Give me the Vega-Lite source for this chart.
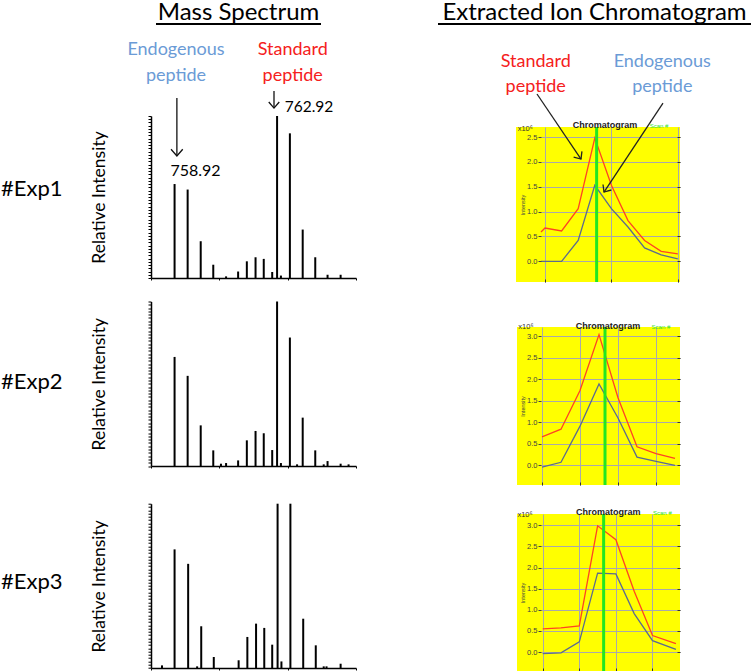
{
  "$schema": "https://vega.github.io/schema/vega-lite/v6.json",
  "background": "white",
  "padding": 0,
  "autosize": {"type": "pad"},
  "config": {"view": {"stroke": null}, "axis": {"labelFont": "Liberation Sans"}},
  "datasets": {
    "anno": [{}],
    "spec1": [{"mz":758.92,"rel":58},{"mz":759.43,"rel":54.6},{"mz":759.94,"rel":22.7},{"mz":760.43,"rel":8.2},{"mz":760.93,"rel":1},{"mz":761.4,"rel":4},{"mz":761.74,"rel":10.3},{"mz":762.08,"rel":12.8},{"mz":762.4,"rel":11.8},{"mz":762.73,"rel":3.7},{"mz":762.92,"rel":100},{"mz":763.07,"rel":1.5},{"mz":763.42,"rel":89.3},{"mz":763.92,"rel":29.9},{"mz":764.41,"rel":12.8},{"mz":764.89,"rel":2},{"mz":765.4,"rel":2}],
    "spec2": [{"mz":758.92,"rel":66.3},{"mz":759.43,"rel":54.8},{"mz":759.94,"rel":24.7},{"mz":760.43,"rel":9.5},{"mz":760.73,"rel":1.4},{"mz":760.93,"rel":1.8},{"mz":761.4,"rel":3.4},{"mz":761.74,"rel":15.6},{"mz":762.08,"rel":21.3},{"mz":762.4,"rel":19.9},{"mz":762.73,"rel":9.7},{"mz":762.92,"rel":100},{"mz":763.07,"rel":1.8},{"mz":763.42,"rel":78.1},{"mz":763.7,"rel":1},{"mz":763.92,"rel":29.4},{"mz":764.41,"rel":9.5},{"mz":764.74,"rel":1},{"mz":764.89,"rel":3},{"mz":765.4,"rel":1.4},{"mz":765.71,"rel":1}],
    "spec3": [{"mz":758.43,"rel":1.6},{"mz":758.92,"rel":72.2},{"mz":759.45,"rel":63.4},{"mz":759.8,"rel":1},{"mz":759.96,"rel":25.4},{"mz":760.45,"rel":6.7},{"mz":761.42,"rel":4.7},{"mz":761.76,"rel":18.9},{"mz":762.1,"rel":27},{"mz":762.42,"rel":24.4},{"mz":762.73,"rel":14.2},{"mz":762.94,"rel":100},{"mz":763.09,"rel":4},{"mz":763.44,"rel":100},{"mz":763.94,"rel":30},{"mz":764.43,"rel":13.8},{"mz":764.74,"rel":1},{"mz":764.85,"rel":1},{"mz":765.4,"rel":2.6}],
    "chrom1": [{"scan":-0.24,"pep":"Standard","int":0.59},{"scan":0,"pep":"Standard","int":0.67},{"scan":1,"pep":"Standard","int":0.61},{"scan":2,"pep":"Standard","int":1.06},{"scan":3,"pep":"Standard","int":2.48},{"scan":4,"pep":"Standard","int":1.53},{"scan":5,"pep":"Standard","int":0.82},{"scan":6,"pep":"Standard","int":0.42},{"scan":7,"pep":"Standard","int":0.2},{"scan":8,"pep":"Standard","int":0.15},
      {"scan":-0.24,"pep":"Endogenous","int":0},{"scan":0,"pep":"Endogenous","int":0},{"scan":1,"pep":"Endogenous","int":0},{"scan":2,"pep":"Endogenous","int":0.42},{"scan":3,"pep":"Endogenous","int":1.53},{"scan":4,"pep":"Endogenous","int":1.06},{"scan":5,"pep":"Endogenous","int":0.69},{"scan":6,"pep":"Endogenous","int":0.27},{"scan":7,"pep":"Endogenous","int":0.13},{"scan":8,"pep":"Endogenous","int":0.05}],
    "chrom2": [{"scan":0,"pep":"Standard","int":0.66},{"scan":1,"pep":"Standard","int":0.84},{"scan":2,"pep":"Standard","int":1.74},{"scan":3,"pep":"Standard","int":3.04},{"scan":4,"pep":"Standard","int":1.57},{"scan":5,"pep":"Standard","int":0.43},{"scan":6,"pep":"Standard","int":0.27},{"scan":7,"pep":"Standard","int":0.16},
      {"scan":0,"pep":"Endogenous","int":-0.04},{"scan":1,"pep":"Endogenous","int":0.07},{"scan":2,"pep":"Endogenous","int":0.91},{"scan":3,"pep":"Endogenous","int":1.89},{"scan":4,"pep":"Endogenous","int":1.1},{"scan":5,"pep":"Endogenous","int":0.19},{"scan":6,"pep":"Endogenous","int":0.09},{"scan":7,"pep":"Endogenous","int":0}],
    "chrom3": [{"scan":0,"pep":"Standard","int":0.55},{"scan":1,"pep":"Standard","int":0.57},{"scan":2,"pep":"Standard","int":0.62},{"scan":3,"pep":"Standard","int":2.99},{"scan":4,"pep":"Standard","int":2.66},{"scan":5,"pep":"Standard","int":1.44},{"scan":6,"pep":"Standard","int":0.39},{"scan":7.28,"pep":"Standard","int":0.2},
      {"scan":0,"pep":"Endogenous","int":-0.04},{"scan":1,"pep":"Endogenous","int":-0.02},{"scan":2,"pep":"Endogenous","int":0.24},{"scan":3,"pep":"Endogenous","int":1.87},{"scan":4,"pep":"Endogenous","int":1.85},{"scan":5,"pep":"Endogenous","int":0.91},{"scan":6,"pep":"Endogenous","int":0.27},{"scan":7.28,"pep":"Endogenous","int":0.06}]
  },
  "spacing": 80,
  "hconcat": [
    {
      "spacing": 14,
      "vconcat": [
        {
          "width": 205, "height": 26,
          "layer": [
            {"data": {"name": "anno"}, "mark": {"type": "text", "text": "Mass Spectrum", "font": "Lato", "fontSize": 24, "align": "center", "baseline": "alphabetic", "color": "#000", "clip": false}, "encoding": {"x": {"datum": 761.415, "scale": {"domain": [758, 766], "nice": false, "zero": false}, "axis": null}, "y": {"datum": 7.5, "scale": {"domain": [0, 26], "nice": false, "zero": false}, "axis": null}}},
            {"data": {"name": "anno"}, "mark": {"type": "rule", "color": "#000", "strokeWidth": 2, "clip": false}, "encoding": {"x": {"datum": 758.195, "axis": null}, "x2": {"datum": 764.634}, "y": {"datum": 3, "axis": null}}}
          ]
        },
        {
          "spacing": 19.5,
          "vconcat": [
            {
              "width": 205, "height": 162,
              "layer": [
                {"data": {"name": "spec1"}, "mark": {"type": "rule", "strokeWidth": 2, "color": "#000"},
                 "encoding": {
                   "x": {"field": "mz", "type": "quantitative", "scale": {"domain": [758, 766], "nice": false, "zero": false}, "axis": {"title": null, "labels": false, "values": [758,758.333,758.667,759,759.333,759.667,760,760.333,760.667,761,761.333,761.667,762,762.333,762.667,763,763.333,763.667,764,764.333,764.667,765,765.333,765.667,766], "tickSize": 2, "tickColor": "#000", "domainColor": "#000", "domainWidth": 1.5, "grid": false}},
                   "y": {"field": "rel", "type": "quantitative", "scale": {"domain": [0, 100], "nice": false, "zero": false}, "axis": {"title": "Relative Intensity", "labels": false, "tickCount": 50, "tickSize": 3, "tickColor": "#000", "domainColor": "#000", "domainWidth": 1.5, "grid": false, "titleFont": "Lato", "titleFontSize": 17.5, "titleFontWeight": "normal", "titleColor": "#000", "titlePadding": 39}},
                   "y2": {"datum": 0}
                 }},
                {"data": {"name": "anno"}, "mark": {"type": "text", "text": "Endogenous", "font": "Lato", "fontSize": 18, "align": "center", "baseline": "alphabetic", "color": "#6b9bd6", "clip": false}, "encoding": {"x": {"datum": 758.976}, "y": {"datum": 137.47}}},
                {"data": {"name": "anno"}, "mark": {"type": "text", "text": "peptide", "font": "Lato", "fontSize": 18, "align": "center", "baseline": "alphabetic", "color": "#6b9bd6", "clip": false}, "encoding": {"x": {"datum": 758.976}, "y": {"datum": 121.6}}},
                {"data": {"name": "anno"}, "mark": {"type": "text", "text": "Standard", "font": "Lato", "fontSize": 18, "align": "center", "baseline": "alphabetic", "color": "#f52020", "clip": false}, "encoding": {"x": {"datum": 763.53}, "y": {"datum": 137.47}}},
                {"data": {"name": "anno"}, "mark": {"type": "text", "text": "peptide", "font": "Lato", "fontSize": 18, "align": "center", "baseline": "alphabetic", "color": "#f52020", "clip": false}, "encoding": {"x": {"datum": 763.53}, "y": {"datum": 121.6}}},
                {"data": {"name": "anno"}, "mark": {"type": "rule", "color": "#111", "strokeWidth": 1.3, "clip": false}, "encoding": {"x": {"datum": 759.01}, "y": {"datum": 111.1}, "y2": {"datum": 75.3}}},
                {"data": {"name": "anno"}, "mark": {"type": "point", "shape": "M-1,-1.15L0,0L1,-1.15", "size": 137, "filled": false, "color": "#111", "strokeWidth": 1.3, "opacity": 1, "clip": false}, "encoding": {"x": {"datum": 759.01}, "y": {"datum": 75.3}}},
                {"data": {"name": "anno"}, "mark": {"type": "rule", "color": "#111", "strokeWidth": 1.3, "clip": false}, "encoding": {"x": {"datum": 762.8}, "y": {"datum": 115.4}, "y2": {"datum": 104.9}}},
                {"data": {"name": "anno"}, "mark": {"type": "point", "shape": "M-1,-1.15L0,0L1,-1.15", "size": 110, "filled": false, "color": "#111", "strokeWidth": 1.3, "opacity": 1, "clip": false}, "encoding": {"x": {"datum": 762.8}, "y": {"datum": 104.9}}},
                {"data": {"name": "anno"}, "mark": {"type": "text", "text": "762.92", "font": "Lato", "fontSize": 15.5, "align": "center", "baseline": "alphabetic", "color": "#000", "clip": false}, "encoding": {"x": {"datum": 764.166}, "y": {"datum": 102.65}}},
                {"data": {"name": "anno"}, "mark": {"type": "text", "text": "758.92", "font": "Lato", "fontSize": 16, "align": "center", "baseline": "alphabetic", "color": "#000", "clip": false}, "encoding": {"x": {"datum": 759.737}, "y": {"datum": 62.96}}},
                {"data": {"name": "anno"}, "mark": {"type": "text", "text": "#Exp1", "font": "Lato", "fontSize": 22, "align": "left", "baseline": "alphabetic", "color": "#000", "clip": false}, "encoding": {"x": {"datum": 752.146}, "y": {"datum": 50.6}}}
              ]
            },
            {
              "spacing": 34.2,
              "vconcat": [
                {
                  "width": 205, "height": 164.5,
                  "layer": [
                    {"data": {"name": "spec2"}, "mark": {"type": "rule", "strokeWidth": 2, "color": "#000"},
                     "encoding": {
                       "x": {"field": "mz", "type": "quantitative", "scale": {"domain": [758, 766], "nice": false, "zero": false}, "axis": {"title": null, "labels": false, "values": [758,758.333,758.667,759,759.333,759.667,760,760.333,760.667,761,761.333,761.667,762,762.333,762.667,763,763.333,763.667,764,764.333,764.667,765,765.333,765.667,766], "tickSize": 2, "tickColor": "#000", "domainColor": "#000", "domainWidth": 1.5, "grid": false}},
                       "y": {"field": "rel", "type": "quantitative", "scale": {"domain": [0, 100], "nice": false, "zero": false}, "axis": {"title": "Relative Intensity", "labels": false, "tickCount": 50, "tickSize": 3, "tickColor": "#000", "domainColor": "#000", "domainWidth": 1.5, "grid": false, "titleFont": "Lato", "titleFontSize": 17.5, "titleFontWeight": "normal", "titleColor": "#000", "titlePadding": 39}},
                       "y2": {"datum": 0}
                     }},
                    {"data": {"name": "anno"}, "mark": {"type": "text", "text": "#Exp2", "font": "Lato", "fontSize": 22, "align": "left", "baseline": "alphabetic", "color": "#000", "clip": false}, "encoding": {"x": {"datum": 752.146}, "y": {"datum": 46.8}}}
                  ]
                },
                {
                  "width": 205, "height": 164.3,
                  "layer": [
                    {"data": {"name": "spec3"}, "mark": {"type": "rule", "strokeWidth": 2, "color": "#000"},
                     "encoding": {
                       "x": {"field": "mz", "type": "quantitative", "scale": {"domain": [758, 766], "nice": false, "zero": false}, "axis": {"title": null, "labels": false, "values": [758,758.333,758.667,759,759.333,759.667,760,760.333,760.667,761,761.333,761.667,762,762.333,762.667,763,763.333,763.667,764,764.333,764.667,765,765.333,765.667,766], "tickSize": 2, "tickColor": "#000", "domainColor": "#000", "domainWidth": 1.5, "grid": false}},
                       "y": {"field": "rel", "type": "quantitative", "scale": {"domain": [0, 100], "nice": false, "zero": false}, "axis": {"title": "Relative Intensity", "labels": false, "tickCount": 50, "tickSize": 3, "tickColor": "#000", "domainColor": "#000", "domainWidth": 1.5, "grid": false, "titleFont": "Lato", "titleFontSize": 17.5, "titleFontWeight": "normal", "titleColor": "#000", "titlePadding": 39}},
                       "y2": {"datum": 0}
                     }},
                    {"data": {"name": "anno"}, "mark": {"type": "text", "text": "#Exp3", "font": "Lato", "fontSize": 22, "align": "left", "baseline": "alphabetic", "color": "#000", "clip": false}, "encoding": {"x": {"datum": 752.146}, "y": {"datum": 48.1}}}
                  ]
                }
              ]
            }
          ]
        }
      ]
    },
    {
      "spacing": 25,
      "vconcat": [
        {
          "width": 139, "height": 26,
          "layer": [
            {"data": {"name": "anno"}, "mark": {"type": "text", "text": "Extracted Ion Chromatogram", "font": "Lato", "fontSize": 24, "align": "center", "baseline": "alphabetic", "color": "#000", "clip": false}, "encoding": {"x": {"datum": 2.982, "scale": {"domain": [-0.241, 8.133], "nice": false, "zero": false}, "axis": null}, "y": {"datum": 7.5, "scale": {"domain": [0, 26], "nice": false, "zero": false}, "axis": null}}},
            {"data": {"name": "anno"}, "mark": {"type": "rule", "color": "#000", "strokeWidth": 2, "clip": false}, "encoding": {"x": {"datum": -6.446, "axis": null}, "x2": {"datum": 12.41}, "y": {"datum": 3, "axis": null}}}
          ]
        },
        {
          "spacing": 37,
          "vconcat": [
            {
              "width": 139, "height": 155,
              "view": {"fill": "#ffff00", "stroke": null},
              "resolve": {"axis": {"y": "independent"}},
              "layer": [
                {"data": {"name": "anno"}, "mark": {"type": "rect", "color": "#ffff00", "clip": false}, "encoding": {"x": {"datum": -1.747}, "x2": {"datum": -0.241}, "y": {"datum": -0.416, "axis": {"orient": "right", "title": null, "labels": false, "domain": false, "values": [0,0.5,1,1.5,2,2.5], "tickSize": -3, "tickColor": "#333", "grid": true, "gridColor": "#a9a9a9"}}, "y2": {"datum": 2.702}}},
                {"data": {"name": "chrom1"}, "mark": {"type": "line", "strokeWidth": 1.3},
                 "encoding": {
                   "x": {"field": "scan", "type": "quantitative", "scale": {"domain": [-0.241, 8.133], "nice": false, "zero": false}, "axis": {"title": null, "labels": false, "values": [0,1,2,3,4,5,6,7,8], "tickSize": -3, "tickColor": "#333", "domain": false, "grid": true, "gridColor": "#a9a9a9"}},
                   "y": {"field": "int", "type": "quantitative", "scale": {"domain": [-0.416, 2.702], "nice": false, "zero": false}, "axis": {"orient": "left", "zindex": 1, "title": "Intensity", "values": [0,0.5,1,1.5,2,2.5], "format": ".1f", "labelFont": "Liberation Sans", "labelFontSize": 7.5, "labelColor": "#444", "labelPadding": 1, "tickSize": 3, "tickColor": "#444", "domain": false, "grid": false, "titleFont": "Liberation Sans", "titleFontSize": 5.5, "titleFontWeight": "normal", "titleColor": "#444", "titlePadding": 1}},
                   "color": {"field": "pep", "type": "nominal", "scale": {"domain": ["Standard", "Endogenous"], "range": ["#ff4422", "#5c6b8f"]}, "legend": null}
                 }},
                {"data": {"name": "anno"}, "mark": {"type": "rule", "color": "#22e622", "strokeWidth": 3}, "encoding": {"x": {"datum": 3.11}}},
                {"data": {"name": "anno"}, "mark": {"type": "text", "text": "Chromatogram", "font": "Liberation Sans", "fontWeight": "bold", "fontSize": 9, "align": "center", "baseline": "alphabetic", "color": "#222", "clip": false}, "encoding": {"x": {"datum": 3.614}, "y": {"datum": 2.682, "axis": null}}},
                {"data": {"name": "anno"}, "mark": {"type": "text", "text": "Scan #", "font": "Liberation Sans", "fontSize": 6, "align": "center", "baseline": "alphabetic", "color": "#2ee02e", "clip": false}, "encoding": {"x": {"datum": 6.867}, "y": {"datum": 2.682, "axis": null}}},
                {"data": {"name": "anno"}, "mark": {"type": "text", "text": "x10⁶", "font": "Liberation Sans", "fontSize": 7.5, "align": "left", "baseline": "alphabetic", "color": "#333", "clip": false}, "encoding": {"x": {"datum": -1.645}, "y": {"datum": 2.62, "axis": null}}},
                {"data": {"name": "anno"}, "mark": {"type": "text", "text": "Standard", "font": "Lato", "fontSize": 18, "align": "center", "baseline": "alphabetic", "color": "#f52020", "clip": false}, "encoding": {"x": {"datum": -0.56}, "y": {"datum": 3.909, "axis": null}}},
                {"data": {"name": "anno"}, "mark": {"type": "text", "text": "peptide", "font": "Lato", "fontSize": 18, "align": "center", "baseline": "alphabetic", "color": "#f52020", "clip": false}, "encoding": {"x": {"datum": -0.56}, "y": {"datum": 3.406, "axis": null}}},
                {"data": {"name": "anno"}, "mark": {"type": "text", "text": "Endogenous", "font": "Lato", "fontSize": 18, "align": "center", "baseline": "alphabetic", "color": "#6b9bd6", "clip": false}, "encoding": {"x": {"datum": 7.066}, "y": {"datum": 3.909, "axis": null}}},
                {"data": {"name": "anno"}, "mark": {"type": "text", "text": "peptide", "font": "Lato", "fontSize": 18, "align": "center", "baseline": "alphabetic", "color": "#6b9bd6", "clip": false}, "encoding": {"x": {"datum": 7.066}, "y": {"datum": 3.406, "axis": null}}},
                {"data": {"name": "anno"}, "mark": {"type": "rule", "color": "#222", "strokeWidth": 1.3, "clip": false}, "encoding": {"x": {"datum": -0.482}, "y": {"datum": 3.366, "axis": null}, "x2": {"datum": 2.169}, "y2": {"datum": 2.058}}},
                {"data": {"name": "anno"}, "mark": {"type": "point", "shape": "M-1,-1.15L0,0L1,-1.15", "size": 100, "angle": -34, "filled": false, "color": "#222", "strokeWidth": 1.3, "opacity": 1, "clip": false}, "encoding": {"x": {"datum": 2.169}, "y": {"datum": 2.058, "axis": null}}},
                {"data": {"name": "anno"}, "mark": {"type": "rule", "color": "#222", "strokeWidth": 1.3, "clip": false}, "encoding": {"x": {"datum": 7.108}, "y": {"datum": 3.183, "axis": null}, "x2": {"datum": 3.554}, "y2": {"datum": 1.394}}},
                {"data": {"name": "anno"}, "mark": {"type": "point", "shape": "M-1,-1.15L0,0L1,-1.15", "size": 100, "angle": 33.6, "filled": false, "color": "#222", "strokeWidth": 1.3, "opacity": 1, "clip": false}, "encoding": {"x": {"datum": 3.554}, "y": {"datum": 1.394, "axis": null}}}
              ]
            },
            {
              "spacing": 21,
              "vconcat": [
                {
                  "width": 139, "height": 158,
                  "view": {"fill": "#ffff00", "stroke": null},
                  "resolve": {"axis": {"y": "independent"}},
                  "layer": [
                    {"data": {"name": "anno"}, "mark": {"type": "rect", "color": "#ffff00", "clip": false}, "encoding": {"x": {"datum": -1.316}, "x2": {"datum": -0.053}, "y": {"datum": -0.458, "axis": {"orient": "right", "title": null, "labels": false, "domain": false, "values": [0,0.5,1,1.5,2,2.5,3], "tickSize": -3, "tickColor": "#333", "grid": true, "gridColor": "#a9a9a9"}}, "y2": {"datum": 3.216}}},
                    {"data": {"name": "chrom2"}, "mark": {"type": "line", "strokeWidth": 1.3},
                     "encoding": {
                       "x": {"field": "scan", "type": "quantitative", "scale": {"domain": [-0.053, 7.263], "nice": false, "zero": false}, "axis": {"title": null, "labels": false, "values": [0,1,2,3,4,5,6,7], "tickSize": -3, "tickColor": "#333", "domain": false, "grid": true, "gridColor": "#a9a9a9"}},
                       "y": {"field": "int", "type": "quantitative", "scale": {"domain": [-0.458, 3.216], "nice": false, "zero": false}, "axis": {"orient": "left", "zindex": 1, "title": "Intensity", "values": [0,0.5,1,1.5,2,2.5,3], "format": ".1f", "labelFont": "Liberation Sans", "labelFontSize": 7.5, "labelColor": "#444", "labelPadding": 1, "tickSize": 3, "tickColor": "#444", "domain": false, "grid": false, "titleFont": "Liberation Sans", "titleFontSize": 5.5, "titleFontWeight": "normal", "titleColor": "#444", "titlePadding": 1}},
                       "color": {"field": "pep", "type": "nominal", "scale": {"domain": ["Standard", "Endogenous"], "range": ["#ff4422", "#5c6b8f"]}, "legend": null}
                     }},
                    {"data": {"name": "anno"}, "mark": {"type": "rule", "color": "#22e622", "strokeWidth": 3}, "encoding": {"x": {"datum": 3.316}}},
                    {"data": {"name": "anno"}, "mark": {"type": "text", "text": "Chromatogram", "font": "Liberation Sans", "fontWeight": "bold", "fontSize": 9, "align": "center", "baseline": "alphabetic", "color": "#222", "clip": false}, "encoding": {"x": {"datum": 3.47}, "y": {"datum": 3.17, "axis": null}}},
                    {"data": {"name": "anno"}, "mark": {"type": "text", "text": "Scan #", "font": "Liberation Sans", "fontSize": 6, "align": "center", "baseline": "alphabetic", "color": "#2ee02e", "clip": false}, "encoding": {"x": {"datum": 6.26}, "y": {"datum": 3.17, "axis": null}}},
                    {"data": {"name": "anno"}, "mark": {"type": "text", "text": "x10⁶", "font": "Liberation Sans", "fontSize": 7.5, "align": "left", "baseline": "alphabetic", "color": "#333", "clip": false}, "encoding": {"x": {"datum": -1.247}, "y": {"datum": 3.17, "axis": null}}}
                  ]
                },
                {
                  "width": 139, "height": 157,
                  "view": {"fill": "#ffff00", "stroke": null},
                  "resolve": {"axis": {"y": "independent"}},
                  "layer": [
                    {"data": {"name": "anno"}, "mark": {"type": "rect", "color": "#ffff00", "clip": false}, "encoding": {"x": {"datum": -1.404}, "x2": {"datum": -0.093}, "y": {"datum": -0.45, "axis": {"orient": "right", "title": null, "labels": false, "domain": false, "values": [0,0.5,1,1.5,2,2.5,3], "tickSize": -3, "tickColor": "#333", "grid": true, "gridColor": "#a9a9a9"}}, "y2": {"datum": 3.27}}},
                    {"data": {"name": "chrom3"}, "mark": {"type": "line", "strokeWidth": 1.3},
                     "encoding": {
                       "x": {"field": "scan", "type": "quantitative", "scale": {"domain": [-0.093, 7.503], "nice": false, "zero": false}, "axis": {"title": null, "labels": false, "values": [0,1,2,3,4,5,6,7], "tickSize": -3, "tickColor": "#333", "domain": false, "grid": true, "gridColor": "#a9a9a9"}},
                       "y": {"field": "int", "type": "quantitative", "scale": {"domain": [-0.45, 3.27], "nice": false, "zero": false}, "axis": {"orient": "left", "zindex": 1, "title": "Intensity", "values": [0,0.5,1,1.5,2,2.5,3], "format": ".1f", "labelFont": "Liberation Sans", "labelFontSize": 7.5, "labelColor": "#444", "labelPadding": 1, "tickSize": 3, "tickColor": "#444", "domain": false, "grid": false, "titleFont": "Liberation Sans", "titleFontSize": 5.5, "titleFontWeight": "normal", "titleColor": "#444", "titlePadding": 1}},
                       "color": {"field": "pep", "type": "nominal", "scale": {"domain": ["Standard", "Endogenous"], "range": ["#ff4422", "#5c6b8f"]}, "legend": null}
                     }},
                    {"data": {"name": "anno"}, "mark": {"type": "rule", "color": "#22e622", "strokeWidth": 3}, "encoding": {"x": {"datum": 3.33}}},
                    {"data": {"name": "anno"}, "mark": {"type": "text", "text": "Chromatogram", "font": "Liberation Sans", "fontWeight": "bold", "fontSize": 9, "align": "center", "baseline": "alphabetic", "color": "#222", "clip": false}, "encoding": {"x": {"datum": 3.58}, "y": {"datum": 3.239, "axis": null}}},
                    {"data": {"name": "anno"}, "mark": {"type": "text", "text": "Scan #", "font": "Liberation Sans", "fontSize": 6, "align": "center", "baseline": "alphabetic", "color": "#2ee02e", "clip": false}, "encoding": {"x": {"datum": 6.54}, "y": {"datum": 3.239, "axis": null}}},
                    {"data": {"name": "anno"}, "mark": {"type": "text", "text": "x10⁶", "font": "Liberation Sans", "fontSize": 7.5, "align": "left", "baseline": "alphabetic", "color": "#333", "clip": false}, "encoding": {"x": {"datum": -1.38}, "y": {"datum": 3.2, "axis": null}}}
                  ]
                }
              ]
            }
          ]
        }
      ]
    }
  ]
}
